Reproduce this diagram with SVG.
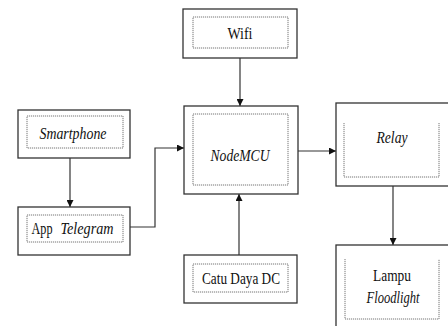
<svg xmlns="http://www.w3.org/2000/svg" width="448" height="326" viewBox="0 0 448 326">
<style>
.outer{fill:#fff;stroke:#333;stroke-width:1.3}
.inner{fill:none;stroke:#777;stroke-width:1;stroke-dasharray:1.2 0.8}
text{font-family:'Liberation Serif','Times New Roman',serif;font-size:17px;fill:#111;text-anchor:middle}
.i{font-style:italic}
.c{fill:none;stroke:#333;stroke-width:1.2}
</style>
<defs>
<marker id="ah" viewBox="0 0 10 10" refX="10" refY="5" markerWidth="7" markerHeight="7" markerUnits="userSpaceOnUse" orient="auto">
<path d="M0,0 L10,5 L0,10 Z" fill="#111"/>
</marker>
</defs>
<rect width="448" height="326" fill="#fff"/>
<g id="connectors">
<line class="c" x1="240" y1="58" x2="240" y2="106" marker-end="url(#ah)"/>
<line class="c" x1="70" y1="158" x2="70" y2="207" marker-end="url(#ah)"/>
<polyline class="c" points="130,227 155,227 155,148 184,148" marker-end="url(#ah)"/>
<line class="c" x1="298" y1="151" x2="336" y2="151" marker-end="url(#ah)"/>
<line class="c" x1="239" y1="255" x2="239" y2="194" marker-end="url(#ah)"/>
<line class="c" x1="393" y1="186" x2="393" y2="245" marker-end="url(#ah)"/>
</g>
<g id="wifi">
<rect class="outer" x="183" y="9" width="114" height="49"/>
<rect class="inner" x="193" y="17" width="95" height="31"/>
<text x="240" y="38.5" textLength="25" lengthAdjust="spacingAndGlyphs">Wifi</text>
</g>
<g id="smartphone">
<rect class="outer" x="18" y="110" width="112" height="48"/>
<rect class="inner" x="27" y="116" width="96" height="32"/>
<text class="i" x="73" y="138.5" textLength="67" lengthAdjust="spacingAndGlyphs">Smartphone</text>
</g>
<g id="app-telegram">
<rect class="outer" x="18" y="207" width="112" height="48"/>
<rect class="inner" x="27" y="215" width="96" height="27"/>
<text x="42" y="233.5" textLength="21" lengthAdjust="spacingAndGlyphs">App</text>
<text class="i" x="87" y="233.5" textLength="53" lengthAdjust="spacingAndGlyphs">Telegram</text>
</g>
<g id="nodemcu">
<rect class="outer" x="184" y="106" width="114" height="88"/>
<rect class="inner" x="193" y="114" width="95" height="71"/>
<text class="i" x="240" y="161" textLength="59" lengthAdjust="spacingAndGlyphs">NodeMCU</text>
</g>
<g id="relay">
<rect class="outer" x="336" y="103" width="115" height="83"/>
<path class="inner" d="M344,123 V177 H439 V123"/>
<text class="i" x="392" y="143" textLength="31" lengthAdjust="spacingAndGlyphs">Relay</text>
</g>
<g id="catu-daya">
<rect class="outer" x="184" y="255" width="113" height="48"/>
<rect class="inner" x="193" y="264" width="95" height="28"/>
<text x="241" y="284" textLength="78" lengthAdjust="spacingAndGlyphs">Catu Daya DC</text>
</g>
<g id="lampu">
<rect class="outer" x="336" y="245" width="115" height="90"/>
<path class="inner" d="M345,259 V319 H439 V259"/>
<text x="392" y="281" textLength="38" lengthAdjust="spacingAndGlyphs">Lampu</text>
<text class="i" x="393" y="303" textLength="53" lengthAdjust="spacingAndGlyphs">Floodlight</text>
</g>
</svg>
